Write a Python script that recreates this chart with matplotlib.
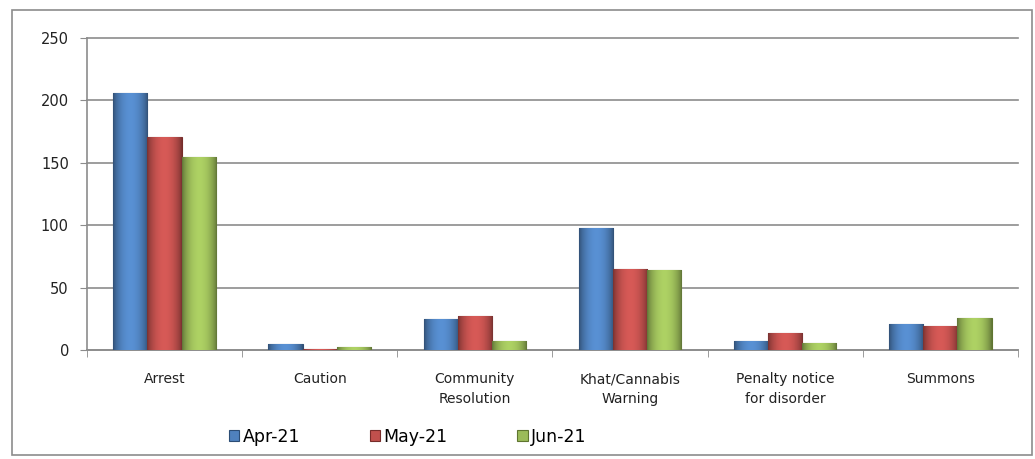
import numpy as np
import matplotlib.pyplot as plt
from matplotlib.patches import Rectangle
from matplotlib.colors import to_rgb

# Data
categories = ["Arrest", "Caution", "Community\nResolution", "Khat/Cannabis\nWarning",
              "Penalty notice\nfor disorder", "Summons"]
apr_21 = [206, 5, 25, 98, 7, 21]
may_21 = [171, 1, 27, 65, 14, 19]
jun_21 = [155, 2, 7, 64, 6, 26]
series_names = ["Apr-21", "May-21", "Jun-21"]
colors = ["#4F81BD", "#C0504D", "#9BBB59"]
edges = ["#2C4D75", "#772C2A", "#5F7530"]

plt.rcParams['font.family'] = ['DejaVu Sans']

fig = plt.figure(figsize=(10.35, 4.59), dpi=100)
ax = fig.add_axes([0.084, 0.2375, 0.8995, 0.6795])

# outer chart border
fig.patches.append(Rectangle((0.012, 0.008), 0.985, 0.97, transform=fig.transFigure,
                             fill=False, edgecolor="#8c8c8c", linewidth=1.2))

# horizontal shading to mimic the bevelled Excel bars
t = np.linspace(0, 1, 64)
shade = 0.62 + 0.5 * np.sin(np.pi * t) ** 0.7

x = np.arange(len(categories))
width = 0.22
for i, (vals, name) in enumerate(zip([apr_21, may_21, jun_21], series_names)):
    bars = ax.bar(x + (i - 1) * width, vals, width, color=colors[i], edgecolor=edges[i],
                  linewidth=0.8, label=name, zorder=3)
    base = np.array(to_rgb(colors[i]))
    grad = np.clip(base[None, :] * shade[:, None], 0, 1)[None, :, :]
    for b in bars:
        bx, by = b.get_x(), b.get_y()
        im = ax.imshow(grad, extent=[bx, bx + b.get_width(), by, by + b.get_height()],
                       aspect='auto', zorder=3.5, interpolation='bilinear')
        im.set_clip_path(b)

ax.set_xlim(-0.5, len(categories) - 0.5)
ax.set_ylim(0, 250)
ax.set_yticks([0, 50, 100, 150, 200, 250])
ax.yaxis.grid(True, color="#8c8c8c", linewidth=1.2, zorder=0)
for gl in ax.get_ygridlines():
    gl.set_clip_on(False)

ax.set_xticks(x)
ax.set_xticklabels(categories, fontsize=10, color="#222222", linespacing=1.55)
ax.set_xticks(np.arange(-0.5, len(categories)), minor=True)
ax.tick_params(axis='x', which='major', length=0, pad=16)
ax.tick_params(axis='x', which='minor', length=5, color="#8c8c8c")
ax.tick_params(axis='y', length=5, color="#8c8c8c", labelsize=10.5, labelcolor="#222222", pad=8)

for side in ["top", "right"]:
    ax.spines[side].set_visible(False)
ax.spines["left"].set_color("#8c8c8c")
ax.spines["bottom"].set_color("#8c8c8c")
ax.spines["left"].set_linewidth(1.2)
ax.spines["bottom"].set_linewidth(1.2)

fig.legend(loc='center', bbox_to_anchor=(0.394, 0.048), ncol=3, frameon=False,
           fontsize=12.5, handlelength=0.6, handleheight=0.6, handletextpad=0.2,
           columnspacing=4.0)

fig.savefig("out.png", dpi=100)
